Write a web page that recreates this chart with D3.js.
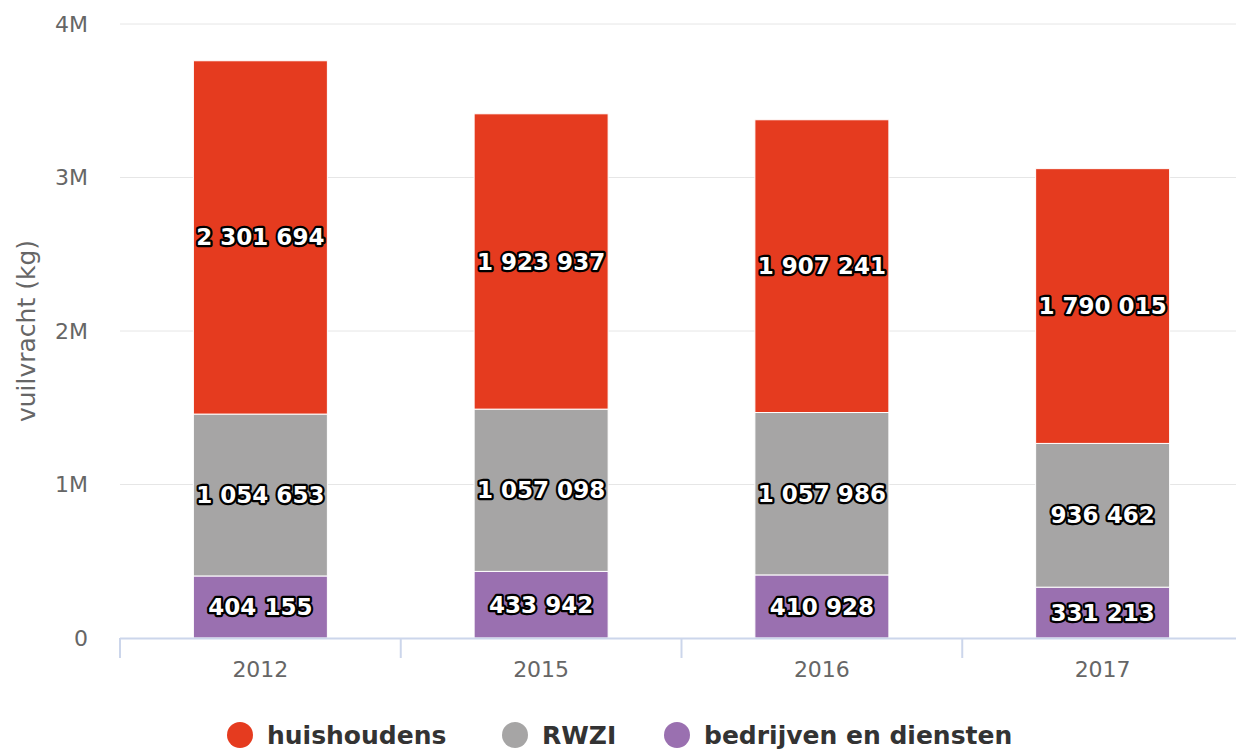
<!DOCTYPE html>
<html>
<head>
<meta charset="utf-8">
<script src="https://cdn.jsdelivr.net/npm/d3@7"></script>
<style>
  body { margin: 0; background: #fff; overflow: hidden; }
  svg { font-family: "DejaVu Sans", sans-serif; display: block; }
</style>
</head>
<body>
<div id="chart"></div>
<script>
const years = ["2012", "2015", "2016", "2017"];
const seriesNames = ["bedrijven en diensten", "RWZI", "huishoudens"];
const bedrijven = [404155, 433942, 410928, 331213];
const rwzi = [1054653, 1057098, 1057986, 936462];
const huishoudens = [2301694, 1923937, 1907241, 1790015];
const yTicks = [0, 1000000, 2000000, 3000000, 4000000];
const legendOrder = ["huishoudens", "RWZI", "bedrijven en diensten"];

const colors = {
  "huishoudens": "#e53b1f",
  "RWZI": "#a6a5a5",
  "bedrijven en diensten": "#9a70b0"
};

const width = 1236, height = 752;
const margin = { top: 24, right: -7, bottom: 114, left: 120 };
const innerW = width - margin.left - margin.right;
const innerH = height - margin.top - margin.bottom;

const svg = d3.select("#chart").append("svg")
  .attr("width", width).attr("height", height);

const g = svg.append("g").attr("transform", `translate(${margin.left},${margin.top})`);

const rows = years.map((yr, i) => ({
  year: yr,
  "bedrijven en diensten": bedrijven[i],
  "RWZI": rwzi[i],
  "huishoudens": huishoudens[i]
}));

const stack = d3.stack().keys(seriesNames)(rows);

const x = d3.scaleBand().domain(years).range([0, innerW]);
const y = d3.scaleLinear().domain([0, 4000000]).range([innerH, 0]);

// gridlines
g.append("g").selectAll("line")
  .data(yTicks.slice(1))
  .join("line")
  .attr("x1", 0).attr("x2", innerW)
  .attr("y1", d => y(d)).attr("y2", d => y(d))
  .attr("stroke", "#e6e6e6").attr("stroke-width", 1);

// y labels
const fmtM = d => d === 0 ? "0" : (d / 1e6) + "M";
g.append("g").selectAll("text")
  .data(yTicks)
  .join("text")
  .attr("x", -32).attr("y", d => y(d))
  .attr("dy", "0.35em")
  .attr("text-anchor", "end")
  .attr("fill", "#666")
  .style("font-size", "22px")
  .text(fmtM);

// y title
svg.append("text")
  .attr("transform", "rotate(-90)")
  .attr("x", -331).attr("y", 35)
  .attr("text-anchor", "middle")
  .attr("fill", "#666")
  .style("font-size", "25px")
  .text("vuilvracht (kg)");

// bars
const barW = 134;
const fmt = d => d3.format(",")(d).replace(/,/g, " ");

const layers = g.selectAll(".layer")
  .data(stack)
  .join("g")
  .attr("class", "layer")
  .attr("fill", d => colors[d.key]);

layers.selectAll("rect")
  .data(d => d)
  .join("rect")
  .attr("x", d => x(d.data.year) + x.bandwidth() / 2 - barW / 2)
  .attr("y", d => y(d[1]))
  .attr("width", barW)
  .attr("height", d => y(d[0]) - y(d[1]))
  .attr("stroke", "#fff")
  .attr("stroke-width", 1);

// data labels
layers.selectAll("text")
  .data(d => d.map(v => ({ v, key: d.key })))
  .join("text")
  .attr("x", d => x(d.v.data.year) + x.bandwidth() / 2)
  .attr("y", d => y((d.v[0] + d.v[1]) / 2))
  .attr("dy", "0.35em")
  .attr("text-anchor", "middle")
  .attr("fill", "#fff")
  .attr("stroke", "#000")
  .attr("stroke-width", 4.5)
  .attr("stroke-linejoin", "round")
  .attr("paint-order", "stroke")
  .style("font-size", "23px")
  .style("font-weight", "bold")
  .text(d => fmt(d.v.data[d.key]));

// x axis
const xAxis = g.append("g").attr("transform", `translate(0,${innerH})`);
xAxis.append("line")
  .attr("x1", 0).attr("x2", innerW)
  .attr("y1", 0.5).attr("y2", 0.5)
  .attr("stroke", "#ccd6eb").attr("stroke-width", 2);
xAxis.selectAll(".tick")
  .data(years)
  .join("line")
  .attr("class", "tick")
  .attr("x1", d => x(d)).attr("x2", d => x(d))
  .attr("y1", 0).attr("y2", 20)
  .attr("stroke", "#ccd6eb").attr("stroke-width", 2);
xAxis.selectAll(".xlabel")
  .data(years)
  .join("text")
  .attr("class", "xlabel")
  .attr("x", d => x(d) + x.bandwidth() / 2)
  .attr("y", 31)
  .attr("dy", "0.35em")
  .attr("text-anchor", "middle")
  .attr("fill", "#666")
  .style("font-size", "22px")
  .text(d => d);

// legend
const legendX = [240, 515, 677];
const legend = svg.append("g");
legendOrder.forEach((name, i) => {
  const item = legend.append("g").attr("transform", `translate(${legendX[i]},735)`);
  item.append("circle").attr("r", 13).attr("fill", colors[name]);
  item.append("text")
    .attr("x", 27).attr("dy", "0.35em")
    .attr("fill", "#333")
    .style("font-size", "25px")
    .style("font-weight", "bold")
    .text(name);
});
</script>
</body>
</html>
